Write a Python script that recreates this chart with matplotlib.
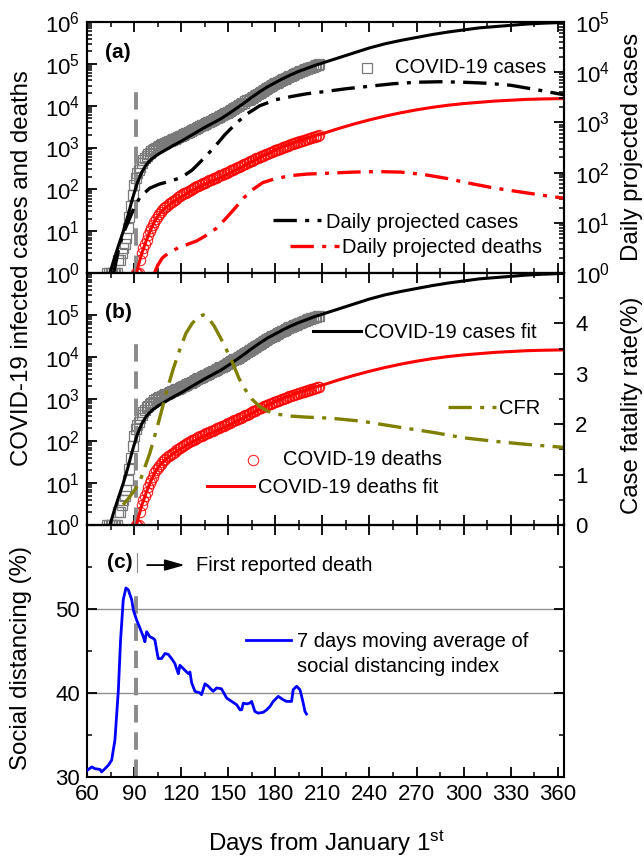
import matplotlib
matplotlib.use("Agg")
import numpy as np
import matplotlib.pyplot as plt
from matplotlib.ticker import MultipleLocator, FixedLocator, LogLocator, NullFormatter
from matplotlib.legend import Legend

plt.rcParams['font.family'] = ['Liberation Sans', 'DejaVu Sans']
plt.rcParams['mathtext.fontset'] = 'custom'
plt.rcParams['mathtext.rm'] = 'Liberation Sans'
plt.rcParams['mathtext.it'] = 'Liberation Sans:italic'
plt.rcParams['mathtext.bf'] = 'Liberation Sans:bold'
plt.rcParams['mathtext.default'] = 'regular'

# ---------------- data ----------------
first_death_day = 91

# cumulative COVID-19 cases (daily, day 73..208)
case_days = list(range(73, 209))
case_counts = [1, 1, 1, 1, 1, 1, 1,
               2, 2, 3, 4, 5, 7, 12, 22, 40, 75,
               130, 190, 240, 290, 350, 420, 490, 560, 630, 690,
               750, 810, 870, 930, 990, 1040, 1090, 1140, 1190, 1240,
               1290, 1340, 1400, 1460, 1520, 1580, 1640, 1700, 1770, 1840,
               1920, 2000, 2090, 2180, 2270, 2370, 2470, 2580, 2700, 2820,
               2950, 3080, 3220, 3360, 3510, 3660, 3820, 3990, 4160, 4340,
               4530, 4730, 4940, 5160, 5400, 5650, 5920, 6200, 6500, 6820,
               7160, 7520, 7900, 8300, 8720, 9170, 9650, 10150, 10700, 11300,
               11900, 12600, 13300, 14000, 14800, 15600, 16500, 17400, 18400, 19400,
               20500, 21600, 22800, 24000, 25300, 26600, 28000, 29400, 30900, 32400,
               34000, 35600, 37300, 39000, 40800, 42600, 44500, 46500, 48500, 50500,
               52600, 54700, 56900, 59100, 61400, 63700, 66000, 68400, 70800, 73300,
               75800, 78300, 80900, 83500, 86100, 88800, 91500, 94300, 97100]

# cumulative COVID-19 deaths (daily, day 91..208)
death_days = list(range(91, 209))
death_counts = [1, 1, 1, 2, 3, 4, 5, 6, 8,
                10, 12, 14, 17, 20, 23, 26, 29, 32, 35,
                38, 41, 44, 47, 50, 53, 56, 60, 64, 68,
                72, 76, 80, 84, 88, 93, 98, 103, 108, 113,
                118, 123, 128, 133, 139, 145, 151, 157, 163, 170,
                177, 184, 191, 199, 207, 215, 224, 233, 242, 252,
                262, 273, 284, 296, 308, 320, 334, 348, 362, 377,
                393, 410, 427, 445, 464, 484, 505, 526, 548, 571,
                595, 618, 642, 666, 691, 717, 743, 770, 798, 827,
                856, 885, 915, 946, 978, 1010, 1043, 1077, 1112, 1148,
                1185, 1222, 1260, 1299, 1339, 1380, 1421, 1462, 1503, 1545,
                1587, 1630, 1673, 1716, 1760, 1804, 1849, 1894, 1940]

# fitted cumulative cases (log10 of count)
fit_case_days = [74.6, 77, 80, 83, 86, 89, 92, 95, 98, 101, 105, 110, 115, 120, 125, 130,
                 135, 140, 145, 150, 155, 160, 165, 170, 175, 180, 185, 190, 195, 200,
                 205, 210, 220, 230, 240, 250, 260, 270, 280, 290, 300, 310, 320, 330,
                 340, 350, 364]
fit_case_log10 = [0, 0.3, 0.65, 0.98, 1.36, 1.78, 2.15, 2.42, 2.6, 2.72, 2.83, 2.94, 3.05,
                  3.15, 3.26, 3.37, 3.48, 3.58, 3.68, 3.8, 3.93, 4.06, 4.2, 4.33, 4.45,
                  4.55, 4.65, 4.74, 4.82, 4.89, 4.96, 5.02, 5.14, 5.26, 5.38, 5.48, 5.56,
                  5.63, 5.7, 5.76, 5.81, 5.86, 5.89, 5.92, 5.95, 5.97, 5.99]

# fitted cumulative deaths (log10 of count)
fit_death_days = [91.6, 93, 95, 98, 101, 104, 107, 110, 115, 120, 125, 130, 135, 140, 145,
                  150, 155, 160, 165, 170, 175, 180, 185, 190, 195, 200, 205, 210, 220,
                  230, 240, 250, 260, 270, 280, 290, 300, 310, 320, 330, 340, 350, 364]
fit_death_log10 = [0, 0.22, 0.48, 0.8, 1.07, 1.3, 1.45, 1.56, 1.7, 1.82, 1.93, 2.03, 2.12,
                   2.2, 2.28, 2.37, 2.46, 2.56, 2.66, 2.76, 2.85, 2.94, 3.02, 3.09, 3.16,
                   3.22, 3.28, 3.33, 3.45, 3.56, 3.66, 3.75, 3.83, 3.9, 3.96, 4.01, 4.05,
                   4.08, 4.11, 4.13, 4.15, 4.16, 4.17]

# daily projected cases (right axis, log10)
daily_case_days = [77, 80, 83, 86, 90, 94, 100, 106, 113, 120, 127, 134, 141, 148, 155, 162,
                   170, 180, 191, 200, 213, 225, 240, 255, 270, 285, 300, 315, 330, 345, 364]
daily_case_log10 = [0, 0.45, 0.78, 1.0, 1.3, 1.52, 1.69, 1.77, 1.83, 1.9, 2.05, 2.27, 2.5,
                    2.76, 2.98, 3.17, 3.33, 3.45, 3.52, 3.57, 3.62, 3.67, 3.72, 3.77, 3.8,
                    3.81, 3.8, 3.78, 3.74, 3.66, 3.55]

# daily projected deaths (right axis, log10)
daily_death_days = [103, 105, 108, 112, 118, 124, 130, 136, 142, 148, 154, 160, 166, 172,
                    180, 190, 200, 215, 230, 245, 260, 275, 290, 305, 320, 335, 350, 364]
daily_death_log10 = [0, 0.15, 0.3, 0.4, 0.5, 0.57, 0.64, 0.75, 0.88, 1.07, 1.28, 1.5, 1.67,
                     1.8, 1.88, 1.94, 1.97, 1.99, 2.01, 2.02, 2.01, 1.96, 1.88, 1.78, 1.69,
                     1.62, 1.55, 1.49]

# case fatality rate (%)
cfr_days = [83, 87, 91, 94, 97, 100, 103, 107, 111, 115, 119, 123, 127, 131, 134, 137, 141,
            145, 149, 153, 157, 161, 165, 170, 175, 181, 190, 200, 215, 235, 255, 280, 300,
            320, 340, 364]
cfr_values = [0.4, 0.55, 0.72, 0.89, 1.16, 1.42, 1.75, 2.2, 2.68, 3.1, 3.47, 3.8, 4.0, 4.13,
              4.17, 4.12, 3.95, 3.72, 3.47, 3.2, 2.9, 2.68, 2.5, 2.35, 2.26, 2.2, 2.16, 2.14,
              2.12, 2.06, 1.96, 1.84, 1.73, 1.66, 1.6, 1.54]

# 7-day moving average of social distancing index (%)
sd_days = [60.2, 63, 65, 68.3, 69.3, 71.5, 73.6, 75.7, 77.8, 80, 81.4, 83.1, 84.8, 86.3,
           88.5, 89.5, 91.6, 93.8, 95.9, 96.9, 98, 100.1, 102.2, 103.3, 104.4, 105.4, 107.5,
           109.7, 111.8, 113.9, 116, 117.1, 118.2, 119.2, 121.4, 123.5, 124.6, 125.6, 126.7,
           128.8, 132, 133, 135.2, 137.3, 140.4, 142.6, 145.7, 149, 152.2, 155.4, 157.5,
           158.6, 159.6, 161.7, 163.8, 164.9, 167, 169.1, 172.3, 174.5, 176.6, 178.7, 181.9,
           185, 187.2, 190.4, 191.4, 193.6, 195.7, 196.8, 197.8, 198.9, 199.9]
sd_values = [30.8, 31.2, 31.0, 30.9, 30.6, 31.0, 31.4, 32.0, 34.4, 40.4, 46.3, 51.1, 52.5,
             52.3, 51.1, 49.9, 48.7, 47.7, 46.7, 46.1, 47.3, 46.7, 46.5, 46.3, 45.1, 44.1,
             44.1, 44.7, 44.6, 44.1, 43.5, 42.9, 42.3, 43.3, 42.9, 42.5, 42.3, 42.5, 41.2,
             40.2, 40.0, 39.8, 41.1, 40.8, 40.2, 40.6, 40.5, 39.4, 39.0, 38.6, 38.0, 38.0,
             38.8, 38.7, 38.8, 39.0, 37.8, 37.6, 37.7, 38.0, 38.4, 39.0, 39.6, 39.2, 39.0,
             39.0, 40.4, 40.8, 40.4, 39.6, 38.8, 37.8, 37.5]

# tick positions / labels
x_ticks = [60, 90, 120, 150, 180, 210, 240, 270, 300, 330, 360]
x_tick_labels = ['60', '90', '120', '150', '180', '210', '240', '270', '300', '330', '360']
log_exponents_a = [0, 1, 2, 3, 4, 5, 6]
log_exponents_a_right = [0, 1, 2, 3, 4, 5]
log_exponents_b = [0, 1, 2, 3, 4, 5, 6]
cfr_ticks = [0, 1, 2, 3, 4, 5]
cfr_tick_labels = ['0', '1', '2', '3', '4', '']
sd_ticks = [30, 40, 50, 60]
sd_tick_labels = ['30', '40', '50', '']

# ---------------- styling ----------------
C_GRAY = '#7a7a7a'
C_RED = '#ff0000'
C_OLIVE = '#808000'
C_BLUE = '#0000ff'
C_VLINE = '#8a8a8a'
DASHDOT = (0, (7, 2.5, 1.2, 2.5))
TICK_FS = 16
LABEL_FS = 17.3
LEG_FS = 14.5

W_PX, H_PX = 644, 857
fig = plt.figure(figsize=(W_PX / 100, H_PX / 100), dpi=100)
left = 87 / W_PX
width = 477 / W_PX


def box(top_px, bot_px):
    return [left, 1 - bot_px / H_PX, width, (bot_px - top_px) / H_PX]


axa = fig.add_axes(box(22, 273))
axb = fig.add_axes(box(273, 525))
axc = fig.add_axes(box(525, 777))
axa2 = axa.twinx()
axb2 = axb.twinx()


def style_common(ax):
    for s in ax.spines.values():
        s.set_linewidth(1.5)
    ax.tick_params(which='major', length=7, width=1.3, labelsize=TICK_FS)
    ax.tick_params(which='minor', length=3.5, width=1.1)


for ax in (axa, axb, axc):
    ax.set_xlim(60, 364)
    ax.xaxis.set_major_locator(FixedLocator(x_ticks))
    ax.xaxis.set_minor_locator(MultipleLocator(15))
    ax.tick_params(axis='x', which='both', direction='in', top=True, bottom=True,
                   labelbottom=False)
    ax.tick_params(axis='y', which='both', direction='in', left=True, right=False, pad=5)
    style_common(ax)

for ax in (axa2, axb2):
    style_common(ax)
    ax.tick_params(axis='y', which='both', direction='in', right=True, left=False, pad=8)

axc.set_xticklabels(x_tick_labels)
axc.tick_params(axis='x', labelbottom=True, pad=5)


def log_axis(ax, top_exp, exps, hide_top=False):
    ax.set_yscale('log')
    ax.set_ylim(1, 10 ** top_exp)
    ax.yaxis.set_major_locator(FixedLocator([10.0 ** e for e in exps]))
    labels = [r'$10^{%d}$' % e for e in exps]
    if hide_top:
        labels[-1] = ''
    ax.set_yticklabels(labels)
    ax.yaxis.set_minor_locator(LogLocator(base=10, subs=np.arange(2, 10), numticks=30))
    ax.yaxis.set_minor_formatter(NullFormatter())


log_axis(axa, 6, log_exponents_a)
log_axis(axa2, 5, log_exponents_a_right)
log_axis(axb, 6, log_exponents_b, hide_top=True)

axb2.set_ylim(0, 5)
axb2.yaxis.set_major_locator(FixedLocator(cfr_ticks))
axb2.set_yticklabels(cfr_tick_labels)
axb2.yaxis.set_minor_locator(MultipleLocator(0.5))

axc.set_ylim(30, 60)
axc.yaxis.set_major_locator(FixedLocator(sd_ticks))
axc.set_yticklabels(sd_tick_labels)
axc.yaxis.set_minor_locator(MultipleLocator(5))
axc.tick_params(axis='y', which='both', right=True)
axc.grid(axis='y', which='major', color='#8f8f8f', lw=1.0)
axc.set_axisbelow(True)

# ---------------- data marks ----------------
fit_case = np.power(10.0, fit_case_log10)
fit_death = np.power(10.0, fit_death_log10)
SQ_STYLE = dict(ls='none', marker='s', ms=7, mfc='none', mec=C_GRAY, mew=0.9)
CI_STYLE = dict(ls='none', marker='o', ms=7.5, mfc='none', mec=C_RED, mew=0.8, alpha=0.85)

for ax in (axa, axb):
    ax.plot(case_days, case_counts, zorder=2, **SQ_STYLE)
    ax.plot(death_days, death_counts, zorder=2, **CI_STYLE)
    ax.axvline(first_death_day, ymin=0, ymax=0.74, color=C_VLINE, lw=2.8,
               ls=(0, (4.5, 2.5)), zorder=2.5)

axa.plot(fit_case_days, fit_case, color='black', lw=2.2, zorder=3)
axa.plot(fit_death_days, fit_death, color=C_RED, lw=2.2, zorder=3)
l_case_fit, = axb.plot(fit_case_days, fit_case, color='black', lw=2.2, zorder=3)
l_death_fit, = axb.plot(fit_death_days, fit_death, color=C_RED, lw=2.2, zorder=3)

l_daily_cases, = axa2.plot(daily_case_days, np.power(10.0, daily_case_log10), color='black',
                           lw=2.4, ls=DASHDOT)
l_daily_deaths, = axa2.plot(daily_death_days, np.power(10.0, daily_death_log10), color=C_RED,
                            lw=2.4, ls=DASHDOT)
l_cfr, = axb2.plot(cfr_days, cfr_values, color=C_OLIVE, lw=2.4, ls=DASHDOT)

l_sd, = axc.plot(sd_days, sd_values, color=C_BLUE, lw=2.0, zorder=3)
axc.axvline(first_death_day, ymin=0, ymax=0.74, color=C_VLINE, lw=2.8,
            ls=(0, (4.5, 2.5)), zorder=2.5)


# ---------------- legends ----------------
def add_leg(ax, handle, label, x, y, hl, pad=0.25):
    leg = Legend(ax, [handle], [label], loc='center left', bbox_to_anchor=(x, y),
                 frameon=False, fontsize=LEG_FS, handlelength=hl, handletextpad=pad,
                 borderpad=0, borderaxespad=0, numpoints=1)
    ax.add_artist(leg)


def marker_key(ax, style, label, xm, xt, y):
    ax.plot([xm], [y], transform=ax.transAxes, clip_on=False, **style)
    ax.text(xt, y, label, transform=ax.transAxes, fontsize=LEG_FS, va='center', ha='left')


marker_key(axa2, SQ_STYLE, 'COVID-19 cases', 0.587, 0.646, 0.817)
add_leg(axa2, l_daily_cases, 'Daily projected cases', 0.39, 0.203, 2.4)
add_leg(axa2, l_daily_deaths, 'Daily projected deaths', 0.426, 0.10, 2.4, pad=0.15)

add_leg(axb2, l_case_fit, 'COVID-19 cases fit', 0.474, 0.762, 2.4, pad=0.15)
add_leg(axb2, l_cfr, 'CFR', 0.757, 0.464, 2.4, pad=0.15)
marker_key(axb2, CI_STYLE, 'COVID-19 deaths', 0.348, 0.411, 0.258)
add_leg(axb2, l_death_fit, 'COVID-19 deaths fit', 0.252, 0.147, 2.3, pad=0.2)

add_leg(axc, l_sd, '7 days moving average of', 0.333, 0.536, 2.23, pad=0.3)
axc.text(0.440, 0.437, 'social distancing index', transform=axc.transAxes,
         fontsize=LEG_FS, va='center', ha='left')

# ---------------- annotations ----------------
axa.text(0.038, 0.88, '(a)', transform=axa.transAxes, fontsize=15, fontweight='bold',
         va='center', ha='left')
axb.text(0.038, 0.845, '(b)', transform=axb.transAxes, fontsize=15, fontweight='bold',
         va='center', ha='left')
axc.text(0.042, 0.853, '(c)', transform=axc.transAxes, fontsize=15, fontweight='bold',
         va='center', ha='left')
axc.axvline(first_death_day + 1, ymin=0.813, ymax=0.889, color=C_VLINE, lw=0.8)
axc.annotate('', xy=(0.205, 0.841), xytext=(0.126, 0.841), xycoords='axes fraction',
             arrowprops=dict(arrowstyle='-|>,head_length=0.6,head_width=0.17', color='black',
                             lw=1.3, mutation_scale=20, shrinkA=0, shrinkB=0))
axc.text(0.2285, 0.841, 'First reported death', transform=axc.transAxes, fontsize=LEG_FS,
         va='center', ha='left')

# ---------------- axis labels ----------------
fig.text(22 / W_PX, 1 - 268 / H_PX, 'COVID-19 infected cases and deaths', rotation=90,
         ha='center', va='center', fontsize=LABEL_FS)
fig.text(21 / W_PX, 1 - 658 / H_PX, 'Social distancing (%)', rotation=90,
         ha='center', va='center', fontsize=LABEL_FS)
fig.text(632 / W_PX, 1 - 147 / H_PX, 'Daily projected cases', rotation=90,
         ha='center', va='center', fontsize=LABEL_FS)
fig.text(632 / W_PX, 1 - 405 / H_PX, 'Case fatality rate(%)', rotation=90,
         ha='center', va='center', fontsize=LABEL_FS)
fig.text(326 / W_PX, 1 - 843 / H_PX, 'Days from January 1$^{st}$',
         ha='center', va='center', fontsize=LABEL_FS)

fig.savefig('out.png', dpi=100)
